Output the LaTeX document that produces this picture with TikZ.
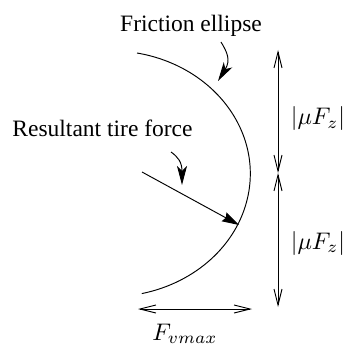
\documentclass[tikz,border=0pt]{standalone}
\usepackage{fontspec}
\setmainfont{Liberation Serif}
\usetikzlibrary{arrows.meta}
\newcommand{\bigmath}[1]{\scalebox{2.4}{$#1$}}
\begin{document}
\begin{tikzpicture}[x=1pt,y=-1pt,
  lbl/.style={font=\fontsize{23.5}{28}\selectfont, inner sep=0pt},
  mlbl/.style={inner sep=0pt},
  thin line/.style={line width=0.95pt},
  dim/.style={thin line, {Straight Barb[length=16pt,width=8pt]}-{Straight Barb[length=16pt,width=8pt]}},
  ptr/.style={thin line, -{Stealth[length=19pt,width=10pt,inset=5pt]}},
  force/.style={thin line, -{Stealth[length=17pt,width=10pt,inset=2pt]}},
]
\useasboundingbox (0,0) rectangle (346,347);
% friction ellipse arc
\draw[thin line] (137,53) arc[start angle=-79,end angle=77,x radius=140,y radius=123];
% labels
\node[lbl, anchor=base] (fe) at (191,32) {Friction ellipse};
\node[lbl, anchor=base] (rtf) at (102.5,136.7) {Resultant tire force};
\node[mlbl] (mu1) at (318,119) {\bigmath{|\mu F_z|}};
\node[mlbl] (mu2) at (318,243) {\bigmath{|\mu F_z|}};
\node[mlbl, anchor=base] (fv) at (185,340) {\bigmath{F_{vmax}}};
% pointers
\coordinate (fp0) at (221,42);
\coordinate (fp1) at (218,81);
\draw[ptr] (fp0) .. controls (227,52) and (231,60) .. (fp1);
\coordinate (rp0) at (171,152);
\coordinate (rp1) at (182,185);
\draw[ptr] (rp0) .. controls (178,157) and (182,162) .. (rp1);
% resultant force
\coordinate (rf0) at (142,172);
\coordinate (rf1) at (239,225);
\draw[force] (rf0) -- (rf1);
% dimension arrows
\coordinate (vt) at (278,50);
\coordinate (vm) at (278,173);
\coordinate (vb) at (278,307);
\draw[dim] (vt) -- (vm);
\draw[dim] (vm) -- (vb);
\coordinate (hl) at (138,309);
\coordinate (hr) at (252,309);
\draw[dim] (hl) -- (hr);
\end{tikzpicture}
\end{document}
